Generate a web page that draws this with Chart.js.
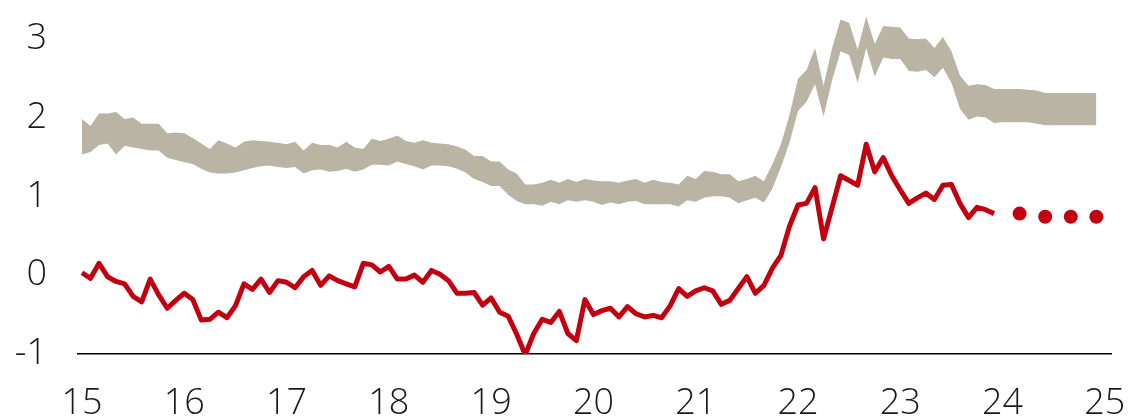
<!DOCTYPE html>
<html>
<head>
<meta charset="utf-8">
<script src="https://cdn.jsdelivr.net/npm/chart.js@4.4.1/dist/chart.umd.min.js"></script>
<style>
  html, body { margin: 0; padding: 0; background: #fff; }
  #wrap { width: 1136px; height: 419px; position: relative; }
</style>
</head>
<body>
<div id="wrap"><canvas id="chart"></canvas></div>
<script>
// monthly data, first point = Jan 2015 (year label "15")
const startYear = 15;

// red line, Jan 2015 - Dec 2023
const redLine = [
  0.03, -0.04, 0.15, -0.02, -0.08, -0.11, -0.27, -0.34, -0.05, -0.25, -0.42, -0.32,
  -0.23, -0.31, -0.57, -0.56, -0.47, -0.54, -0.39, -0.11, -0.18, -0.05, -0.22, -0.07,
  -0.09, -0.16, -0.02, 0.06, -0.13, -0.01, -0.07, -0.11, -0.15, 0.15, 0.13, 0.04,
  0.11, -0.05, -0.05, 0.00, -0.09, 0.06, 0.01, -0.07, -0.23, -0.23, -0.22, -0.38,
  -0.29, -0.47, -0.52, -0.75, -1.01, -0.74, -0.56, -0.60, -0.46, -0.74, -0.83, -0.31,
  -0.50, -0.45, -0.42, -0.53, -0.40, -0.49, -0.53, -0.51, -0.54, -0.39, -0.17, -0.27,
  -0.20, -0.16, -0.20, -0.37, -0.32, -0.17, -0.02, -0.23, -0.13, 0.09, 0.25, 0.62,
  0.89, 0.91, 1.11, 0.46, 0.86, 1.26, 1.20, 1.14, 1.66, 1.31, 1.49, 1.26,
  1.08, 0.91, 0.98, 1.04, 0.96, 1.14, 1.15, 0.91, 0.73, 0.86, 0.83, 0.78
];

// band, Jan 2015 - Dec 2024
const bandHigh = [
  1.98, 1.89, 2.05, 2.05, 2.07, 1.98, 2.00, 1.92, 1.92, 1.92, 1.80, 1.81,
  1.80, 1.74, 1.67, 1.60, 1.71, 1.67, 1.62, 1.69, 1.71, 1.70, 1.69, 1.68,
  1.66, 1.69, 1.58, 1.68, 1.65, 1.65, 1.62, 1.69, 1.62, 1.60, 1.73, 1.70,
  1.73, 1.77, 1.70, 1.68, 1.71, 1.68, 1.67, 1.66, 1.63, 1.59, 1.51, 1.51,
  1.44, 1.44, 1.34, 1.29, 1.15, 1.15, 1.17, 1.21, 1.17, 1.22, 1.18, 1.22,
  1.20, 1.19, 1.19, 1.17, 1.20, 1.22, 1.17, 1.21, 1.18, 1.17, 1.15, 1.26,
  1.22, 1.32, 1.31, 1.28, 1.28, 1.19, 1.22, 1.26, 1.19, 1.41, 1.66, 2.03,
  2.49, 2.60, 2.88, 2.40, 2.88, 3.24, 3.20, 2.86, 3.28, 2.93, 3.16, 3.15,
  3.14, 3.00, 2.99, 3.00, 2.88, 3.02, 2.84, 2.53, 2.40, 2.42, 2.41, 2.36,
  2.36, 2.36, 2.36, 2.35, 2.34, 2.31, 2.31, 2.31, 2.31, 2.31, 2.31, 2.31
];
const bandLow = [
  1.53, 1.56, 1.65, 1.67, 1.53, 1.64, 1.62, 1.60, 1.58, 1.58, 1.49, 1.46,
  1.43, 1.41, 1.35, 1.30, 1.29, 1.29, 1.30, 1.33, 1.36, 1.38, 1.39, 1.37,
  1.36, 1.37, 1.29, 1.33, 1.34, 1.31, 1.32, 1.35, 1.31, 1.34, 1.40, 1.40,
  1.39, 1.44, 1.41, 1.38, 1.34, 1.39, 1.39, 1.38, 1.35, 1.30, 1.22, 1.18,
  1.13, 1.13, 1.02, 0.94, 0.90, 0.90, 0.88, 0.93, 0.90, 0.95, 0.93, 0.95,
  0.93, 0.89, 0.92, 0.90, 0.93, 0.94, 0.90, 0.90, 0.90, 0.90, 0.87, 0.95,
  0.93, 0.98, 1.00, 1.00, 0.98, 0.91, 0.95, 0.98, 0.92, 1.10, 1.37, 1.68,
  2.08, 2.20, 2.42, 2.01, 2.47, 2.84, 2.79, 2.44, 2.88, 2.52, 2.76, 2.74,
  2.74, 2.59, 2.58, 2.60, 2.51, 2.63, 2.44, 2.11, 1.97, 2.01, 2.00, 1.93,
  1.94, 1.94, 1.94, 1.94, 1.92, 1.90, 1.90, 1.90, 1.90, 1.90, 1.90, 1.90
];

// forecast dots, 2024 quarter ends (month index within 2024)
const dotMonths = [2, 5, 8, 11];
const dotValues = [0.78, 0.74, 0.74, 0.74];

const yTicks = [-1, 0, 1, 2, 3];
const xTicks = [15, 16, 17, 18, 19, 20, 21, 22, 23, 24, 25];

const RED = "#c2000f";
const BAND = "#b9b4a3";
const FONT = { family: "'Open Sans'", size: 36, weight: 300 };

// ---------- helpers ----------
const monthX = (i) => startYear + i / 12;
const toPoints = (arr) => arr.map((v, i) => ({ x: monthX(i), y: v }));
const noPad = (s) => {
  s.paddingTop = 0; s.paddingBottom = 0; s.paddingLeft = 0; s.paddingRight = 0;
};

new Chart(document.getElementById("chart"), {
  type: "line",
  data: {
    datasets: [
      {
        data: toPoints(redLine),
        borderColor: RED,
        borderWidth: 5,
        pointRadius: 0,
        tension: 0,
        fill: false,
        borderJoinStyle: "round",
      },
      {
        data: dotMonths.map((m, i) => ({ x: monthX(108 + m), y: dotValues[i] })),
        showLine: false,
        pointRadius: 7,
        pointBackgroundColor: RED,
        pointBorderWidth: 0,
        borderColor: RED,
      },
      {
        data: toPoints(bandHigh),
        borderWidth: 0,
        borderColor: BAND,
        backgroundColor: BAND,
        pointRadius: 0,
        tension: 0,
        fill: "+1",
      },
      {
        data: toPoints(bandLow),
        borderWidth: 0,
        borderColor: BAND,
        pointRadius: 0,
        tension: 0,
        fill: false,
      },
    ],
  },
  options: {
    responsive: true,
    maintainAspectRatio: false,
    animation: false,
    layout: { padding: { top: 0, right: 25, left: 0, bottom: 0 } },
    plugins: { legend: { display: false }, tooltip: { enabled: false } },
    scales: {
      x: {
        type: "linear",
        min: 14.961,
        max: 25.06,
        grid: { display: false, drawTicks: false },
        border: { display: true, color: "#000", width: 1.5 },
        afterBuildTicks: (s) => { s.ticks = xTicks.map((v) => ({ value: v })); },
        afterFit: (s) => { s.height = 65; noPad(s); },
        ticks: {
          color: "#1a1a1a",
          padding: 28,
          maxRotation: 0,
          autoSkip: false,
          font: FONT,
          callback: (v) => String(v),
        },
      },
      y: {
        min: -1,
        max: 3.4,
        grid: { display: false, drawTicks: false },
        border: { display: false },
        afterBuildTicks: (s) => { s.ticks = yTicks.map((v) => ({ value: v })); },
        afterFit: (s) => { s.width = 78; noPad(s); },
        ticks: {
          color: "#1a1a1a",
          padding: 31,
          font: FONT,
          callback: (v) => String(v),
        },
      },
    },
  },
});
</script>
</body>
</html>
